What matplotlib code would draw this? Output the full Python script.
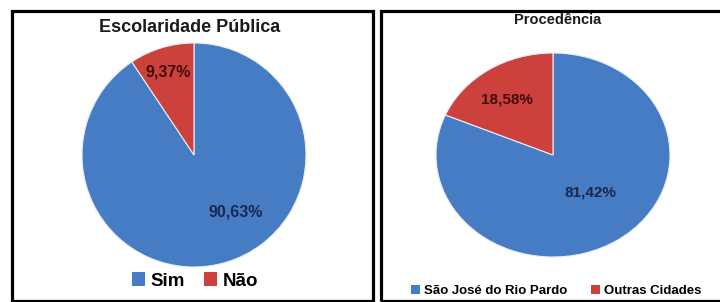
import matplotlib.pyplot as plt
from matplotlib.patches import Rectangle, Patch

# data
esc_labels = ['Sim', 'Não']
esc_values = [90.63, 9.37]
proc_labels = ['São José do Rio Pardo', 'Outras Cidades']
proc_values = [81.42, 18.58]

blue = '#467cc4'
red = '#cc413b'
blue_txt = '#182850'
red_txt = '#400c0c'
font = 'Liberation Sans'

W, H = 720, 302
fig = plt.figure(figsize=(W / 100, H / 100), dpi=100)
fig.patch.set_facecolor('white')

def px_axes(cx, cy, rx, ry):
	# axes placed from pixel centre/radii (y measured from top)
	return fig.add_axes([(cx - rx) / W, (H - cy - ry) / H, 2 * rx / W, 2 * ry / H])

def fmt(v):
	return ('%.2f%%' % v).replace('.', ',')

def draw_pie(ax, values, label_pos, fs):
	wedges, _ = ax.pie(values, colors=[blue, red], startangle=90, counterclock=False,
		radius=1, wedgeprops=dict(edgecolor='#e8eef7', linewidth=0.8))
	ax.set_aspect('auto')
	ax.set_xlim(-1, 1)
	ax.set_ylim(-1, 1)
	ax.axis('off')
	for v, (x, y), c in zip(values, label_pos, [blue_txt, red_txt]):
		ax.text(x, y, fmt(v), ha='center', va='center', fontsize=fs,
			fontweight='bold', color=c, family=font)
	return wedges

# left panel
ax1 = px_axes(194, 155, 112, 112)
draw_pie(ax1, esc_values, [(0.37, -0.51), (-0.23, 0.74)], 11.5)
fig.text(190 / W, 1 - 27 / H, 'Escolaridade Pública', ha='center', va='center',
	fontsize=13, fontweight='bold', color='#1a1a1a', family=font)
h1 = [Patch(facecolor=blue, edgecolor='none'), Patch(facecolor=red, edgecolor='none')]
fig.legend(h1, esc_labels, loc='center', bbox_to_anchor=(195 / W, 1 - 281 / H), ncol=2,
	frameon=False, handlelength=0.7, handleheight=0.7, handletextpad=0.3,
	columnspacing=1.0, prop=dict(family=font, weight='bold', size=13.5))

# right panel
ax2 = px_axes(553, 155, 117, 102)
draw_pie(ax2, proc_values, [(0.32, -0.37), (-0.39, 0.54)], 11)
fig.text(558 / W, 1 - 19.5 / H, 'Procedência', ha='center', va='center',
	fontsize=10.5, fontweight='bold', color='#1a1a1a', family=font)
fig.legend(h1, proc_labels, loc='center', bbox_to_anchor=(556 / W, 1 - 291 / H), ncol=2,
	frameon=False, handlelength=0.7, handleheight=0.7, handletextpad=0.3,
	columnspacing=1.8, prop=dict(family=font, weight='bold', size=9.5))

# panel frames
fig.add_artist(Rectangle((11.5 / W, 1.5 / H), 361 / W, 289.5 / H, transform=fig.transFigure,
	fill=False, edgecolor='black', linewidth=2.3))
fig.add_artist(Rectangle((381 / W, 1.5 / H), 345 / W, 289.5 / H, transform=fig.transFigure,
	fill=False, edgecolor='black', linewidth=2.3))

fig.savefig('out.png', dpi=100, facecolor='white')
